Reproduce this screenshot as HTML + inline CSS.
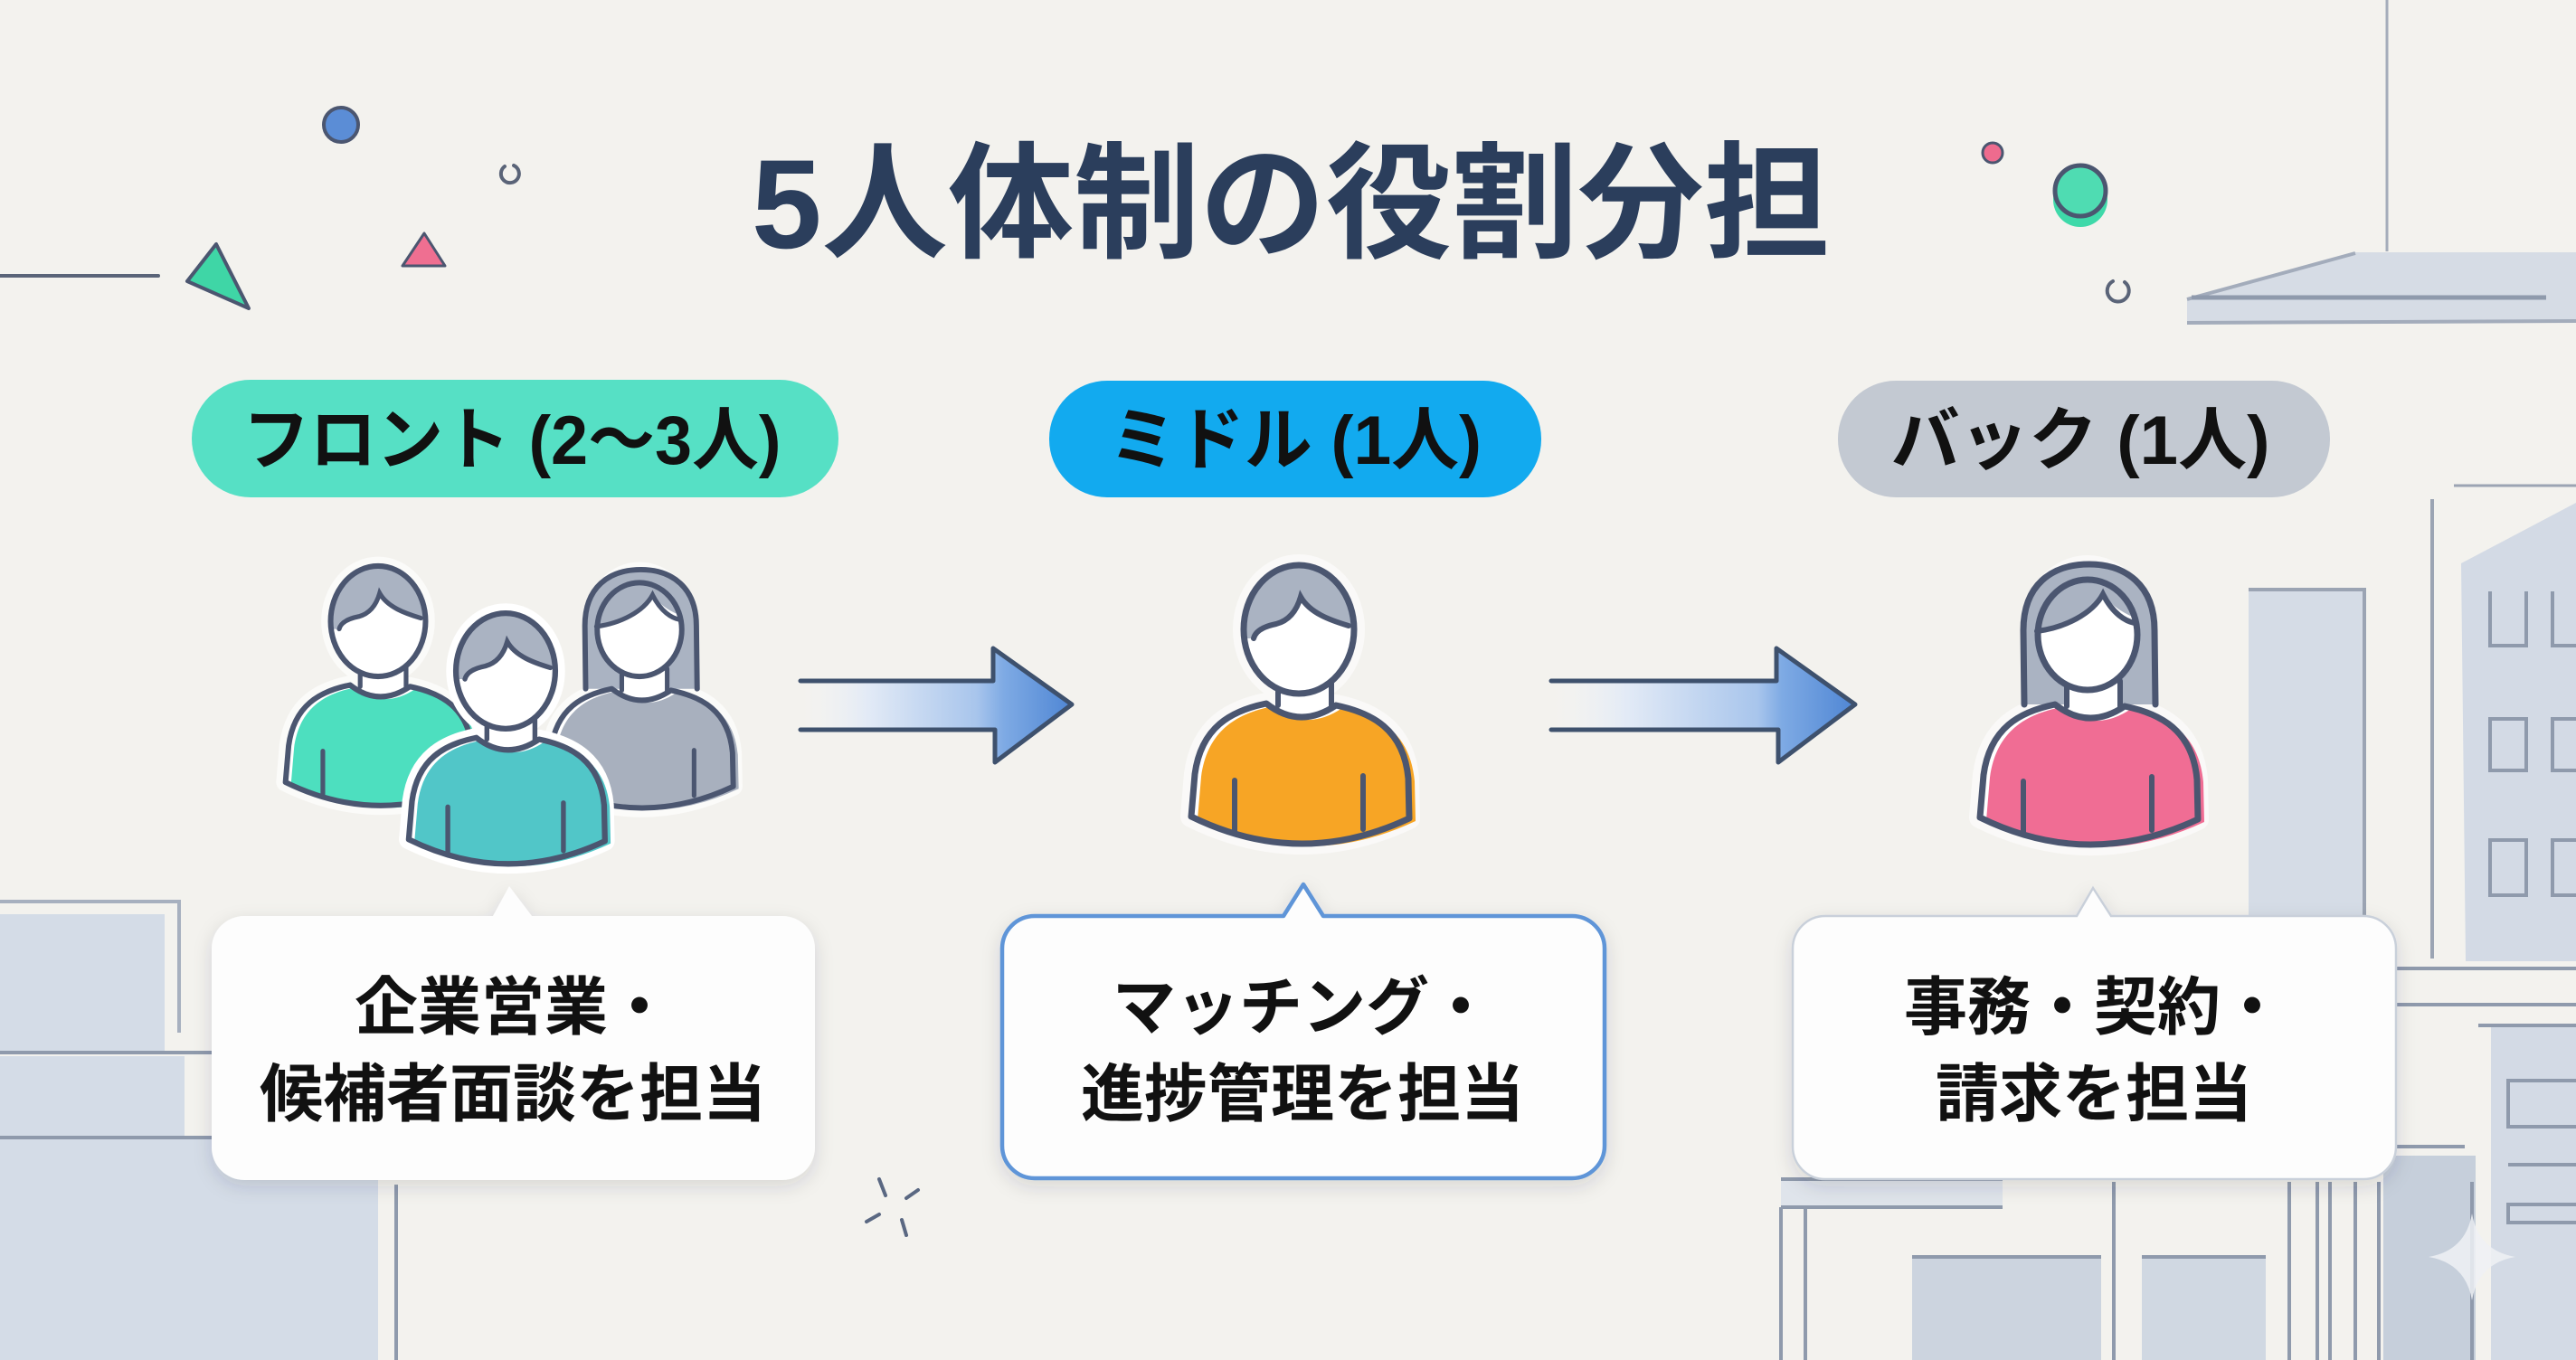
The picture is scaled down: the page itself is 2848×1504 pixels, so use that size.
<!DOCTYPE html>
<html><head><meta charset="utf-8">
<style>
html,body{margin:0;padding:0;background:#f3f2ee;}
svg{display:block;}
text{font-family:"Liberation Sans","Noto Sans CJK JP",sans-serif;font-weight:700;}
</style></head>
<body>
<svg width="2848" height="1504" viewBox="0 0 2848 1504" xmlns="http://www.w3.org/2000/svg">
<defs>
  <linearGradient id="ag1" gradientUnits="userSpaceOnUse" x1="885" y1="0" x2="1185" y2="0">
    <stop offset="0" stop-color="#f3f4f6" stop-opacity="0"/>
    <stop offset="0.25" stop-color="#e2eaf6"/>
    <stop offset="0.65" stop-color="#a8c5ec"/>
    <stop offset="0.75" stop-color="#7eaae4"/>
    <stop offset="1" stop-color="#4f86d4"/>
  </linearGradient>
  <linearGradient id="ag2" gradientUnits="userSpaceOnUse" x1="1715" y1="0" x2="2051" y2="0">
    <stop offset="0" stop-color="#f3f4f6" stop-opacity="0"/>
    <stop offset="0.25" stop-color="#e2eaf6"/>
    <stop offset="0.68" stop-color="#a8c5ec"/>
    <stop offset="0.76" stop-color="#7eaae4"/>
    <stop offset="1" stop-color="#4f86d4"/>
  </linearGradient>
  <filter id="sh" x="-10%" y="-15%" width="120%" height="140%">
    <feDropShadow dx="0" dy="7" stdDeviation="10" flood-color="#2a3548" flood-opacity="0.14"/>
  </filter>
  <clipPath id="mh"><ellipse cx="0" cy="0" rx="61" ry="71"/></clipPath>
  <clipPath id="wf"><ellipse cx="0" cy="5" rx="55" ry="61"/></clipPath>
  <path id="bd" d="M-36,82 C-75,90 -108,108 -115,160 L-119,207 Q1,266 122,209 L121,165 C116,110 80,92 41,84 Q1,111 -36,82 Z"/>

  <g id="man">
    <use href="#bd" fill="#ffffff"/>
    <use href="#bd" fill="currentColor" transform="translate(7,3)"/>
    <path d="M-23,50 L-23,84 Q1,108 36,86 L36,50 Z" fill="#ffffff"/>
    <use href="#bd" fill="none" stroke="#4b5670" stroke-width="7" stroke-linejoin="round"/>
    <path d="M-23,56 L-23,84 M36,56 L36,86 M-71,167 L-71,224 M71,162 L71,221" stroke="#4b5670" stroke-width="6" stroke-linecap="round" fill="none"/>
    <ellipse cx="0" cy="0" rx="61" ry="71" fill="#ffffff"/>
    <path clip-path="url(#mh)" d="M-80,-90 L80,-90 L80,0 L55,-4 C35,-10 12,-18 2,-36 C-2,-22 -10,-10 -25,-6 C-40,-3 -48,2 -50,10 L-80,10 Z" fill="#aab3c2"/>
    <path d="M-50,10 C-48,2 -40,-3 -25,-6 C-10,-10 -2,-22 2,-36 C12,-18 35,-10 55,-4" fill="none" stroke="#4b5670" stroke-width="6" stroke-linecap="round"/>
    <ellipse cx="0" cy="0" rx="61" ry="71" fill="none" stroke="#4b5670" stroke-width="7"/>
  </g>

  <g id="woman">
    <path d="M-70,82 L-71,0 C-71,-50 -40,-73 2,-73 C42,-73 74,-50 74,0 L75,82 Z" fill="#aab3c2"/>
    <use href="#bd" fill="#ffffff"/>
    <use href="#bd" fill="currentColor" transform="translate(7,3)"/>
    <path d="M-23,50 L-23,84 Q1,108 36,86 L36,50 Z" fill="#ffffff"/>
    <use href="#bd" fill="none" stroke="#4b5670" stroke-width="7" stroke-linejoin="round"/>
    <path d="M-23,56 L-23,84 M36,56 L36,86 M-71,167 L-71,224 M71,162 L71,221" stroke="#4b5670" stroke-width="6" stroke-linecap="round" fill="none"/>
    <ellipse cx="0" cy="5" rx="55" ry="61" fill="#ffffff"/>
    <path clip-path="url(#wf)" d="M-80,-80 L80,-80 L80,-6 C62,-10 35,-16 17,-40 C5,-18 -25,-4 -60,0 L-80,0 Z" fill="#aab3c2"/>
    <path d="M-56,1 C-25,-3 5,-18 17,-40 C28,-18 42,-10 52,-8" fill="none" stroke="#4b5670" stroke-width="6" stroke-linecap="round"/>
    <ellipse cx="0" cy="5" rx="55" ry="61" fill="none" stroke="#4b5670" stroke-width="7"/>
    <path d="M-70,82 L-71,0 C-71,-50 -40,-73 2,-73 C42,-73 74,-50 74,0 L75,82" fill="none" stroke="#4b5670" stroke-width="7" stroke-linecap="round"/>
  </g>

  <g id="halo">
    <use href="#bd" fill="#ffffff" stroke="#ffffff" stroke-width="24" stroke-linejoin="round"/>
    <ellipse cx="0" cy="0" rx="61" ry="71" fill="#ffffff" stroke="#ffffff" stroke-width="24"/>
  </g>
</defs>

<!-- background -->
<rect x="0" y="0" width="2848" height="1504" fill="#f3f2ee"/>

<!-- left-bottom buildings -->
<rect x="0" y="1011" width="182" height="153" fill="#d4dce7"/>
<rect x="0" y="1168" width="204" height="88" fill="#d4dce7"/>
<rect x="0" y="1260" width="418" height="244" fill="#d4dce7"/>
<path d="M0,997 L198,997 L198,1142" stroke="#a7b0bf" stroke-width="4" fill="none"/>
<path d="M0,1164 L236,1164 M0,1258 L236,1258" stroke="#8f9aac" stroke-width="4"/>
<path d="M438,1310 L438,1504" stroke="#8f9aac" stroke-width="4"/>

<!-- right buildings -->
<path d="M2639,0 L2639,278" stroke="#a5adbb" stroke-width="3"/>
<polygon points="2418,331 2604,279 2848,279 2848,357 2418,357" fill="#d6dce5"/>
<path d="M2418,331 L2604,280" stroke="#a3acbb" stroke-width="4"/>
<path d="M2423,329 L2815,329" stroke="#8f9aac" stroke-width="5"/>
<path d="M2418,357 L2848,355" stroke="#a3acbb" stroke-width="4"/>
<path d="M2713,537 L2848,537" stroke="#9ba4b3" stroke-width="3"/>
<rect x="2486" y="652" width="127" height="360" fill="#d5dce6"/>
<path d="M2486,652 L2616,652 M2614,652 L2614,1012" stroke="#9ba4b3" stroke-width="4" fill="none"/>
<path d="M2689,552 L2689,1060" stroke="#9ba4b3" stroke-width="4"/>
<polygon points="2721,623 2848,556 2848,1063 2726,1063" fill="#d3dae5"/>
<g stroke="#8f9aac" stroke-width="4" fill="none">
  <path d="M2753,654 L2753,714 L2793,714 L2793,654"/>
  <path d="M2822,654 L2822,714 L2860,714"/>
  <rect x="2753" y="795" width="40" height="57"/>
  <rect x="2822" y="795" width="40" height="57"/>
  <rect x="2753" y="929" width="40" height="61"/>
  <rect x="2822" y="929" width="40" height="61"/>
  <path d="M2650,1071 L2848,1071 M2650,1111 L2848,1111"/>
</g>
<rect x="2754" y="1134" width="94" height="370" fill="#d3dae5"/>
<g stroke="#8f9aac" stroke-width="4" fill="none">
  <path d="M2740,1134 L2848,1134"/>
  <path d="M2848,1195 L2773,1195 L2773,1246 L2848,1246"/>
  <path d="M2773,1288 L2848,1288"/>
  <path d="M2848,1332 L2773,1332 L2773,1352 L2848,1352"/>
</g>
<rect x="1969" y="1306" width="245" height="28" fill="#dfe4eb"/>
<rect x="2114" y="1390" width="209" height="114" fill="#ccd4df"/>
<rect x="2368" y="1390" width="137" height="114" fill="#d0d8e2"/>
<rect x="2635" y="1278" width="102" height="226" fill="#c6cfdb"/>
<g stroke="#8f9aac" stroke-width="4" fill="none">
  <path d="M1969,1304 L2214,1304 M1969,1335 L2214,1335"/>
  <path d="M1969,1335 L1969,1504 M1996,1335 L1996,1504"/>
  <path d="M2114,1390 L2323,1390 M2368,1390 L2505,1390"/>
  <path d="M2337,1307 L2337,1504 M2531,1307 L2531,1504 M2562,1307 L2562,1504 M2576,1307 L2576,1504 M2604,1307 L2604,1504 M2630,1307 L2630,1504 M2733,1307 L2733,1504"/>
  <path d="M2650,1268 L2725,1268"/>
</g>
<path d="M2733,1342 Q2740,1383 2781,1390 Q2740,1397 2733,1438 Q2726,1397 2685,1390 Q2726,1383 2733,1342 Z" fill="#eef1f5" opacity="0.85"/>

<!-- decorations top-left -->
<path d="M0,305 L175,305" stroke="#5a6478" stroke-width="4" stroke-linecap="round"/>
<polygon points="239,270 207,311 275,341" fill="#3fd6a6" stroke="#4b5670" stroke-width="4" stroke-linejoin="round"/>
<polygon points="469,258 445,294 492,294" fill="#ef6f91" stroke="#4b5670" stroke-width="3" stroke-linejoin="round"/>
<circle cx="377" cy="138" r="19" fill="#5b8dd6" stroke="#4b5670" stroke-width="4"/>
<path d="M558,184 A10,10 0 1 0 568,183" fill="none" stroke="#5a6478" stroke-width="4" stroke-linecap="round"/>
<!-- decorations top-right -->
<circle cx="2203" cy="169" r="11" fill="#ee6b8e" stroke="#4b5670" stroke-width="3"/>
<circle cx="2300" cy="221" r="30" fill="#3ed9a9"/>
<circle cx="2300" cy="211" r="28" fill="#4fdcb2" stroke="#4b5670" stroke-width="5"/>
<path d="M2336,311 A12,12 0 1 0 2349,312" fill="none" stroke="#5a6478" stroke-width="4" stroke-linecap="round"/>
<!-- sparkle dashes -->
<path d="M972,1304 L979,1322 M1015,1316 L1002,1325 M972,1343 L958,1351 M997,1349 L1002,1366" stroke="#5a6882" stroke-width="4" stroke-linecap="round"/>

<!-- title -->
<text x="1427" y="274" font-size="140" text-anchor="middle" fill="#2b3e5c" textLength="1192" lengthAdjust="spacingAndGlyphs">5人体制の役割分担</text>

<!-- pills -->
<rect x="212" y="420" width="715" height="130" rx="65" fill="#56e0c5"/>
<rect x="1160" y="421" width="544" height="129" rx="64" fill="#12aaef"/>
<rect x="2032" y="421" width="544" height="129" rx="64" fill="#c3c9d2"/>
<text x="566" y="513" font-size="76" text-anchor="middle" fill="#111111" textLength="595" lengthAdjust="spacingAndGlyphs">フロント (2〜3人)</text>
<text x="1432" y="513" font-size="76" text-anchor="middle" fill="#111111" textLength="412" lengthAdjust="spacingAndGlyphs">ミドル (1人)</text>
<text x="2300" y="513" font-size="76" text-anchor="middle" fill="#111111" textLength="419" lengthAdjust="spacingAndGlyphs">バック (1人)</text>

<!-- people: front group -->
<use href="#halo" transform="translate(418,687) scale(0.86)" opacity="0.7"/>
<use href="#man" transform="translate(418,687) scale(0.86)" style="color:#4ddfbf"/>
<use href="#halo" transform="translate(707,692) scale(0.85)" opacity="0.7"/>
<use href="#woman" transform="translate(707,692) scale(0.85)" style="color:#a8b0be"/>
<use href="#halo" transform="translate(559,742) scale(0.9)"/>
<use href="#man" transform="translate(559,742) scale(0.9)" style="color:#51c6c8"/>
<!-- middle -->
<use href="#halo" transform="translate(1436,696)" opacity="0.6"/>
<use href="#man" transform="translate(1436,696)" style="color:#f7a525"/>
<!-- back -->
<use href="#halo" transform="translate(2308,697)" opacity="0.6"/>
<use href="#woman" transform="translate(2308,697)" style="color:#f06d94"/>

<!-- arrows -->
<path d="M885,753 L1098,753 L1098,717 L1185,779 L1100,843 L1100,807 L885,807 Z" fill="url(#ag1)"/>
<path d="M885,753 L1098,753 L1098,717 L1185,779 L1100,843 L1100,807 L885,807" fill="none" stroke="#3e516d" stroke-width="5" stroke-linejoin="round" stroke-linecap="round"/>
<path d="M1715,753 L1964,753 L1964,717 L2051,779 L1966,843 L1966,807 L1715,807 Z" fill="url(#ag2)"/>
<path d="M1715,753 L1964,753 L1964,717 L2051,779 L1966,843 L1966,807 L1715,807" fill="none" stroke="#3e516d" stroke-width="5" stroke-linejoin="round" stroke-linecap="round"/>

<!-- speech boxes -->
<path d="M270,1013 L545,1013 L563,980 L588,1013 L865,1013 A36,36 0 0 1 901,1049 L901,1269 A36,36 0 0 1 865,1305 L270,1305 A36,36 0 0 1 234,1269 L234,1049 A36,36 0 0 1 270,1013 Z" fill="#fdfdfd" filter="url(#sh)"/>
<path d="M1144,1013 L1419,1013 L1441,978 L1463,1013 L1738,1013 A36,36 0 0 1 1774,1049 L1774,1267 A36,36 0 0 1 1738,1303 L1144,1303 A36,36 0 0 1 1108,1267 L1108,1049 A36,36 0 0 1 1144,1013 Z" fill="#fdfdfd" stroke="#5e95d8" stroke-width="4.5" stroke-linejoin="round" filter="url(#sh)"/>
<path d="M2018,1013 L2296,1013 L2314,982 L2334,1013 L2613,1013 A36,36 0 0 1 2649,1049 L2649,1268 A36,36 0 0 1 2613,1304 L2018,1304 A36,36 0 0 1 1982,1268 L1982,1049 A36,36 0 0 1 2018,1013 Z" fill="#fdfdfd" stroke="#c9d0da" stroke-width="2.5" filter="url(#sh)"/>

<g font-size="70" fill="#111111" text-anchor="middle">
  <text x="567" y="1138">企業営業・</text>
  <text x="567" y="1234">候補者面談を担当</text>
  <text x="1440" y="1138">マッチング・</text>
  <text x="1440" y="1234">進捗管理を担当</text>
  <text x="2315" y="1138">事務・契約・</text>
  <text x="2315" y="1234">請求を担当</text>
</g>
</svg>
</body></html>
